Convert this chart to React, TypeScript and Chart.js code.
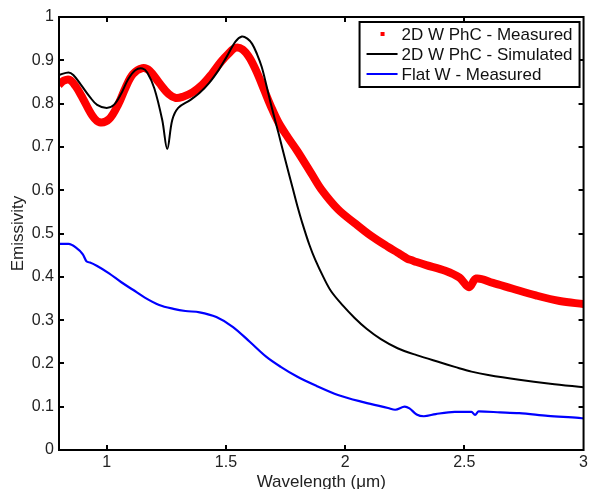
import React, { useEffect, useRef } from "react";
import { Chart, registerables } from "chart.js";

Chart.register(...registerables);

// ---- Data (wavelength in µm, emissivity) ----
const phcMeasuredX = [0.80, 0.82, 0.845, 0.87, 0.90, 0.94, 0.97, 1.01, 1.05, 1.08, 1.11, 1.15, 1.18, 1.22, 1.26, 1.29, 1.32, 1.36, 1.40, 1.44, 1.48, 1.51, 1.54, 1.57, 1.60, 1.63, 1.66, 1.69, 1.72, 1.76, 1.80, 1.86, 1.90, 1.97, 2.04, 2.11, 2.18, 2.22, 2.24, 2.26, 2.28, 2.30, 2.34, 2.42, 2.48, 2.52, 2.55, 2.62, 2.70, 2.80, 2.90, 3.00];
const phcMeasuredY = [0.843, 0.853, 0.855, 0.840, 0.812, 0.772, 0.757, 0.764, 0.800, 0.838, 0.868, 0.882, 0.876, 0.848, 0.822, 0.813, 0.816, 0.826, 0.843, 0.868, 0.897, 0.915, 0.929, 0.925, 0.905, 0.872, 0.832, 0.792, 0.757, 0.722, 0.690, 0.637, 0.602, 0.556, 0.524, 0.494, 0.469, 0.456, 0.449, 0.442, 0.438, 0.434, 0.427, 0.414, 0.398, 0.376, 0.396, 0.386, 0.373, 0.357, 0.344, 0.337];

const phcSimX = [0.80, 0.84, 0.86, 0.89, 0.93, 0.96, 1.00, 1.03, 1.06, 1.09, 1.12, 1.15, 1.17, 1.20, 1.233, 1.254, 1.275, 1.30, 1.35, 1.39, 1.43, 1.47, 1.50, 1.54, 1.567, 1.59, 1.61, 1.63, 1.65, 1.67, 1.69, 1.72, 1.75, 1.78, 1.80, 1.82, 1.85, 1.875, 1.91, 1.942, 1.99, 2.04, 2.09, 2.15, 2.22, 2.30, 2.40, 2.46, 2.53, 2.60, 2.73, 2.86, 3.00];
const phcSimY = [0.866, 0.872, 0.866, 0.845, 0.815, 0.797, 0.790, 0.797, 0.822, 0.856, 0.877, 0.881, 0.872, 0.835, 0.762, 0.695, 0.762, 0.790, 0.808, 0.825, 0.848, 0.878, 0.905, 0.943, 0.955, 0.950, 0.938, 0.915, 0.885, 0.842, 0.796, 0.733, 0.668, 0.605, 0.563, 0.525, 0.474, 0.439, 0.398, 0.366, 0.334, 0.305, 0.280, 0.256, 0.235, 0.219, 0.202, 0.192, 0.181, 0.173, 0.162, 0.153, 0.145];

const flatX = [0.80, 0.84, 0.87, 0.90, 0.915, 0.93, 0.96, 1.01, 1.06, 1.11, 1.16, 1.22, 1.28, 1.33, 1.39, 1.46, 1.53, 1.60, 1.67, 1.73, 1.80, 1.88, 1.97, 2.08, 2.18, 2.21, 2.25, 2.27, 2.30, 2.33, 2.38, 2.46, 2.53, 2.545, 2.56, 2.65, 2.73, 2.85, 2.98, 3.00];
const flatY = [0.476, 0.476, 0.468, 0.452, 0.436, 0.433, 0.425, 0.408, 0.388, 0.370, 0.352, 0.335, 0.326, 0.321, 0.318, 0.307, 0.284, 0.250, 0.215, 0.192, 0.169, 0.148, 0.127, 0.110, 0.097, 0.093, 0.100, 0.096, 0.082, 0.078, 0.083, 0.088, 0.088, 0.081, 0.089, 0.087, 0.085, 0.079, 0.074, 0.073];

const xTickValues = [1, 1.5, 2, 2.5, 3];
const yTickValues = [0, 0.1, 0.2, 0.3, 0.4, 0.5, 0.6, 0.7, 0.8, 0.9, 1];

const legendLabels = ["2D W PhC - Measured", "2D W PhC - Simulated", "Flat W - Measured"];
const seriesColors = ["#ff0000", "#000000", "#0000ff"];

const FONT = "'Liberation Sans', Arial, sans-serif";

const toPoints = (xs: number[], ys: number[]) => xs.map((x, i) => ({ x, y: ys[i] }));

const framePlugin = {
  id: "frameAndLegend",
  afterDraw(chart: any) {
    const ctx = chart.ctx;
    const { left, right, top, bottom } = chart.chartArea;
    const xs = chart.scales.x;
    const ys = chart.scales.y;
    ctx.save();
    ctx.strokeStyle = "#000";
    ctx.lineWidth = 2;
    ctx.strokeRect(left, top, right - left, bottom - top);
    const tl = 5;
    ctx.beginPath();
    xTickValues.forEach((v) => {
      const p = Math.round(xs.getPixelForValue(v));
      if (p > left + 1 && p < right - 1) {
        ctx.moveTo(p, bottom);
        ctx.lineTo(p, bottom - tl);
        ctx.moveTo(p, top);
        ctx.lineTo(p, top + tl);
      }
    });
    yTickValues.forEach((v) => {
      const p = Math.round(ys.getPixelForValue(v));
      if (p > top + 1 && p < bottom - 1) {
        ctx.moveTo(left, p);
        ctx.lineTo(left + tl, p);
        ctx.moveTo(right, p);
        ctx.lineTo(right - tl, p);
      }
    });
    ctx.stroke();

    // legend box
    const bw = 220;
    const bh = 65;
    const bx = right - 4 - bw;
    const by = top + 5;
    ctx.fillStyle = "#fff";
    ctx.fillRect(bx, by, bw, bh);
    ctx.lineWidth = 2;
    ctx.strokeStyle = "#000";
    ctx.strokeRect(bx, by, bw, bh);
    ctx.font = `17px ${FONT}`;
    ctx.textBaseline = "middle";
    ctx.textAlign = "left";
    legendLabels.forEach((label, i) => {
      const cy = by + 12 + i * 20;
      if (i === 0) {
        ctx.fillStyle = seriesColors[0];
        ctx.fillRect(bx + 21, cy - 2, 4, 4);
      } else {
        ctx.strokeStyle = seriesColors[i];
        ctx.lineWidth = 2;
        ctx.beginPath();
        ctx.moveTo(bx + 7, cy);
        ctx.lineTo(bx + 38, cy);
        ctx.stroke();
      }
      ctx.fillStyle = "#111";
      ctx.fillText(label, bx + 42, cy + 1);
    });
    ctx.restore();
  },
};

export default function App() {
  const canvasRef = useRef<HTMLCanvasElement | null>(null);

  useEffect(() => {
    if (!canvasRef.current) return;
    const chart = new Chart(canvasRef.current, {
      type: "line",
      data: {
        datasets: [
          {
            label: legendLabels[0],
            data: toPoints(phcMeasuredX, phcMeasuredY),
            borderColor: seriesColors[0],
            borderWidth: 8,
            pointRadius: 0,
            tension: 0.35,
            order: 3,
          },
          {
            label: legendLabels[1],
            data: toPoints(phcSimX, phcSimY),
            borderColor: seriesColors[1],
            borderWidth: 2,
            pointRadius: 0,
            tension: 0.35,
            order: 1,
          },
          {
            label: legendLabels[2],
            data: toPoints(flatX, flatY),
            borderColor: seriesColors[2],
            borderWidth: 2.2,
            pointRadius: 0,
            cubicInterpolationMode: "monotone",
            order: 2,
          },
        ],
      },
      options: {
        animation: false,
        responsive: false,
        devicePixelRatio: 1,
        layout: { padding: { top: 17, right: 4, left: 0, bottom: 0 } },
        plugins: { legend: { display: false }, tooltip: { enabled: false } },
        scales: {
          x: {
            type: "linear",
            min: 0.8,
            max: 3,
            grid: { display: false, drawTicks: false },
            border: { display: false },
            afterBuildTicks: (s: any) => {
              s.ticks = xTickValues.map((v) => ({ value: v }));
            },
            afterFit: (s: any) => {
              s.height = 39;
            },
            ticks: {
              color: "#222",
              font: { size: 16, family: FONT },
              padding: 3,
              maxRotation: 0,
              autoSkip: false,
              callback: (v: any) => String(v),
            },
            title: {
              display: true,
              text: "Wavelength (μm)",
              color: "#222",
              font: { size: 17, family: FONT, lineHeight: 0.8 },
              padding: { top: 0, bottom: 0 },
            },
          },
          y: {
            type: "linear",
            min: 0,
            max: 1,
            grid: { display: false, drawTicks: false },
            border: { display: false },
            afterBuildTicks: (s: any) => {
              s.ticks = yTickValues.map((v) => ({ value: v }));
            },
            afterFit: (s: any) => {
              s.width = 59;
            },
            ticks: {
              color: "#222",
              font: { size: 16, family: FONT },
              padding: 5,
              autoSkip: false,
              callback: (v: any) => String(Math.round(Number(v) * 10) / 10),
            },
            title: {
              display: true,
              text: "Emissivity",
              color: "#222",
              font: { size: 17, family: FONT, lineHeight: 1.2 },
              padding: { top: 8, bottom: 0 },
            },
          },
        },
      },
      plugins: [framePlugin],
    });
    return () => chart.destroy();
  }, []);

  return (
    <div style={{ position: "fixed", left: 0, top: 0, width: 591, height: 489, background: "#fff" }}>
      <canvas ref={canvasRef} width={591} height={489} style={{ display: "block", width: 591, height: 489 }} />
    </div>
  );
}
